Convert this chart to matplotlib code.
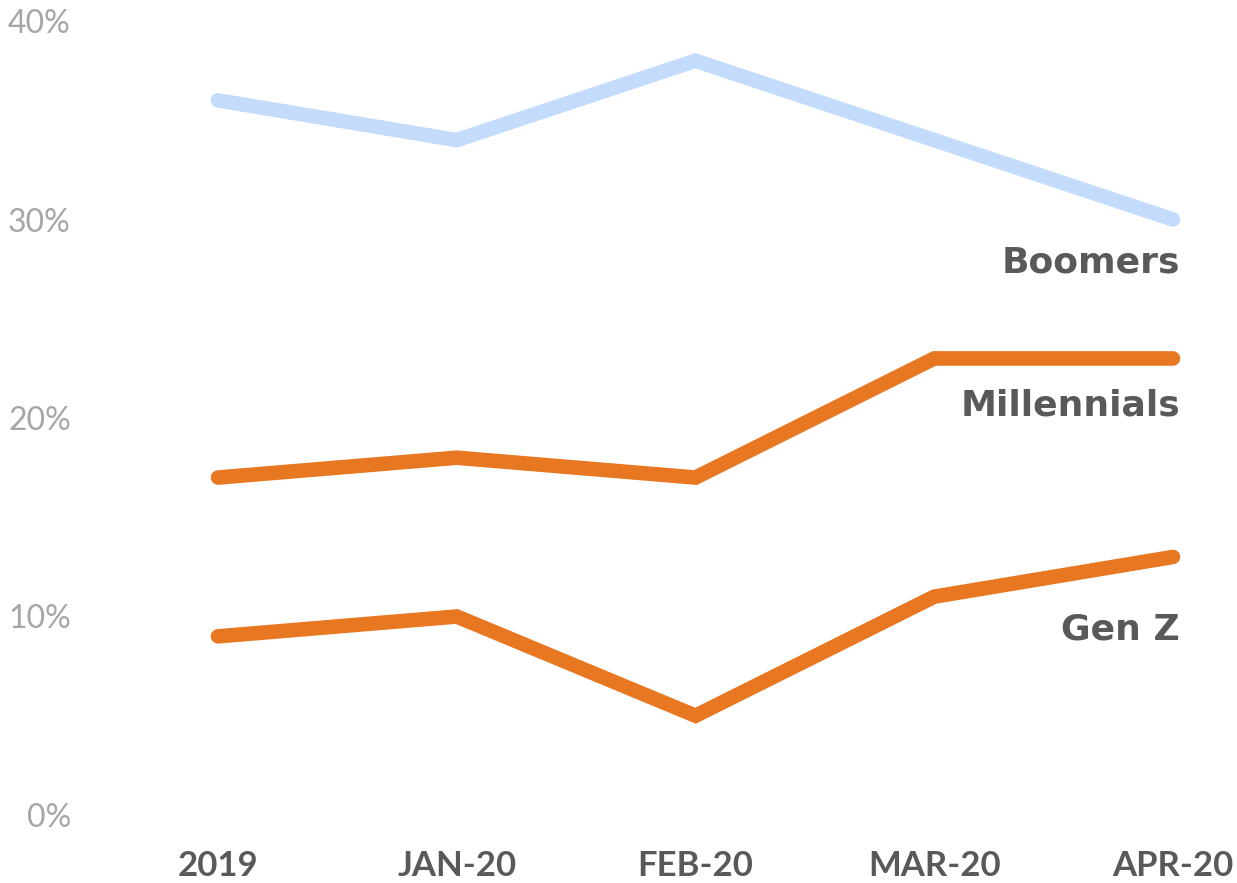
import matplotlib.pyplot as plt

# chart data
periods = ["2019", "JAN-20", "FEB-20", "MAR-20", "APR-20"]
boomers = [36, 34, 38, 34, 30]
millennials = [17, 18, 17, 23, 23]
gen_z = [9, 10, 5, 11, 13]
y_ticks = [0, 10, 20, 30, 40]

BLUE = "#C3DCFC"
ORANGE = "#E87722"
DARK = "#595959"
GREY = "#A6A6A6"

plt.rcParams["font.family"] = ["Lato", "DejaVu Sans"]

fig = plt.figure(figsize=(12.37, 8.83), dpi=100)
ax = fig.add_axes([218 / 1237, 1 - 815 / 883, (1173 - 218) / 1237, (815 - 21) / 883])

x = list(range(len(periods)))
series = [
    ("Boomers", boomers, BLUE, -31),
    ("Millennials", millennials, ORANGE, -34),
    ("Gen Z", gen_z, ORANGE, -52),
]
for name, vals, col, dy in series:
    ax.plot(x, vals, color=col, lw=10.5, solid_capstyle="round",
            solid_joinstyle="miter", clip_on=False)
    ax.annotate(name, xy=(x[-1], vals[-1]), xytext=(5, dy),
                textcoords="offset points", ha="right", va="center",
                fontsize=26, fontweight="bold", color=DARK,
                family="DejaVu Sans", annotation_clip=False)

ax.set_xlim(0, len(periods) - 1)
ax.set_ylim(0, 40)
ax.set_xticks(x)
ax.set_xticklabels(periods, fontsize=25, fontweight="bold", color=DARK)
ax.set_yticks(y_ticks)
ax.set_yticklabels([f"{v}%" for v in y_ticks], fontsize=23, color=GREY)
ax.tick_params(axis="x", length=0, pad=25)
ax.tick_params(axis="y", length=0, pad=106)
for s in ax.spines.values():
    s.set_visible(False)

fig.savefig("out.png", dpi=100)
